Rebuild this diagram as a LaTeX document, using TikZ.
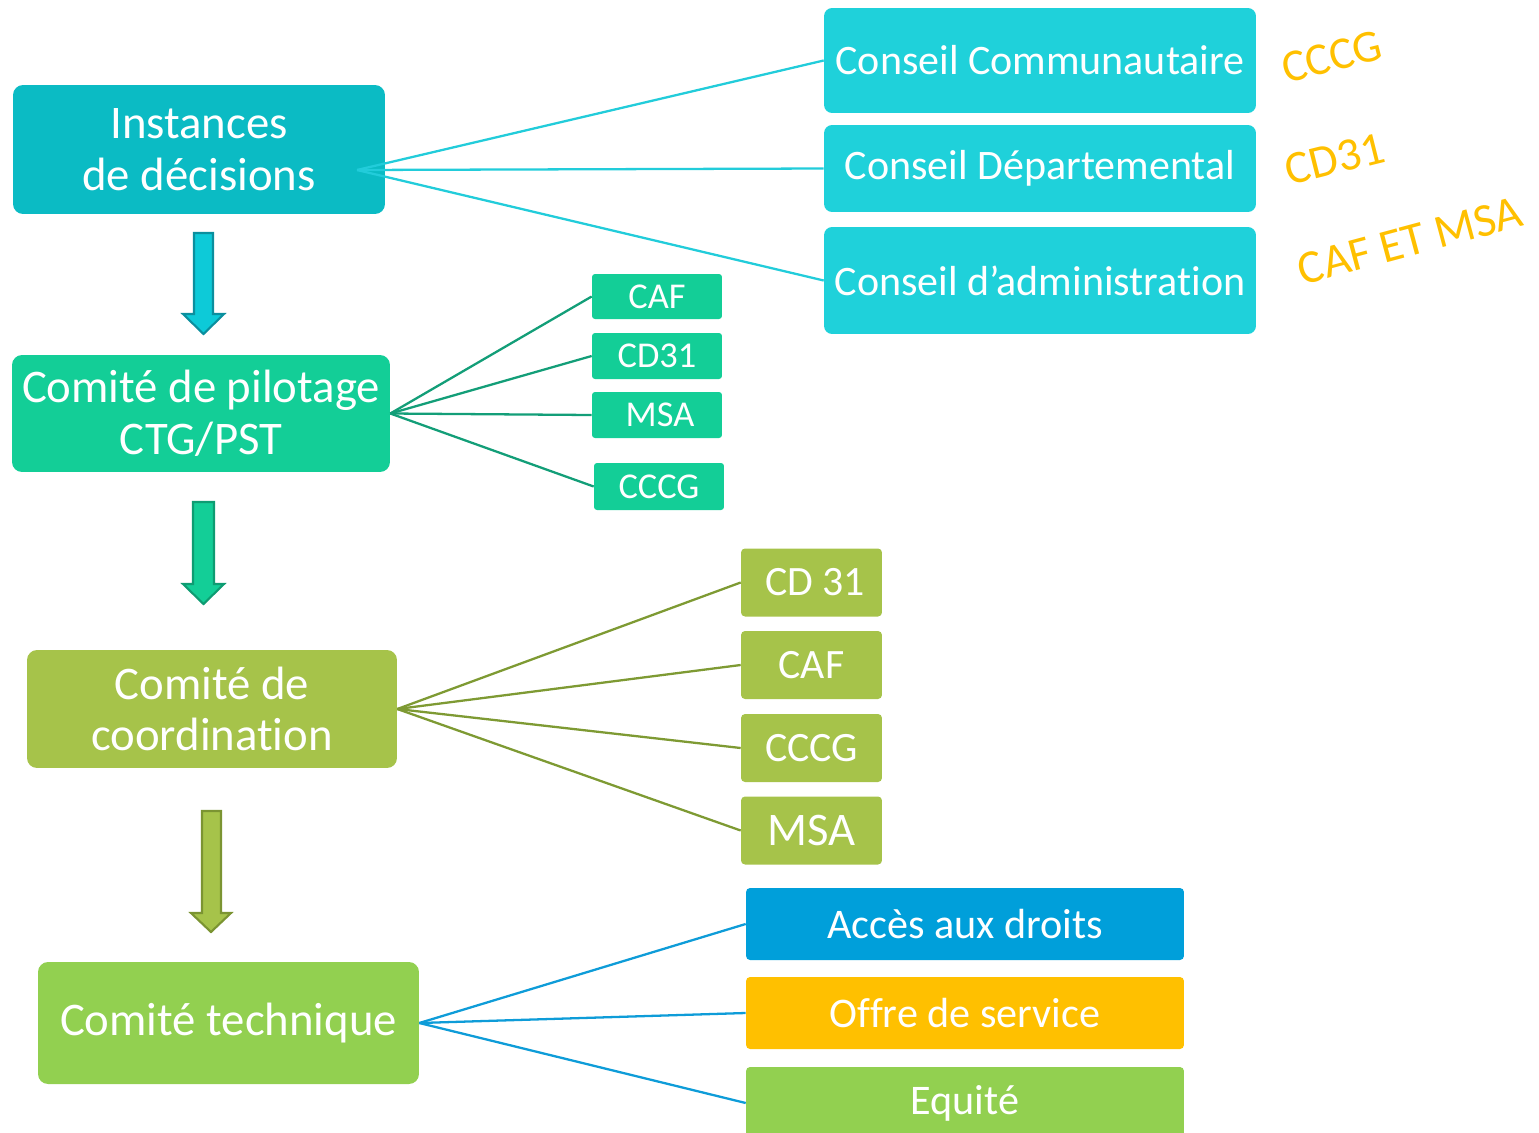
\documentclass[tikz,border=0pt]{standalone}
\usepackage{fontspec}
\setmainfont{Carlito}[Ligatures=NoCommon]
\usetikzlibrary{arrows,shapes}

\definecolor{instcol}{HTML}{0BBBC4}
\definecolor{conscol}{HTML}{1FD1DA}
\definecolor{conslin}{HTML}{22CCDA}
\definecolor{pilotcol}{HTML}{13CE97}
\definecolor{pilotlin}{HTML}{139E78}
\definecolor{coordcol}{HTML}{A6C34A}
\definecolor{coordlin}{HTML}{7E9A33}
\definecolor{techcol}{HTML}{92D050}
\definecolor{techlin}{HTML}{0E9CD8}
\definecolor{accescol}{HTML}{009FDA}
\definecolor{offrecol}{HTML}{FFC000}
\definecolor{arrAfill}{HTML}{0DCAD8}
\definecolor{arrAdraw}{HTML}{0B8F9E}
\definecolor{arrBdraw}{HTML}{0E9C72}
\definecolor{arrCdraw}{HTML}{7B9432}

\begin{document}
\begin{tikzpicture}[x=0.02cm,y=-0.02cm]
\tikzstyle{every node} = [rectangle, text=white, inner sep=0pt, align=center]
\tikzstyle{bigbox} = [rounded corners=0.2cm, font=\fontsize{26.6}{29.5}\selectfont]
\tikzstyle{consbox} = [fill=conscol, rounded corners=0.16cm, minimum width=8.64cm, font=\fontsize{23.9}{26}\selectfont]
\tikzstyle{pbox} = [fill=pilotcol, rounded corners=0.06cm, minimum width=2.6cm, font=\fontsize{20.7}{22}\selectfont]
\tikzstyle{cbox} = [fill=coordcol, rounded corners=0.08cm, minimum width=2.82cm, minimum height=1.36cm, font=\fontsize{23.8}{26}\selectfont]
\tikzstyle{tbox} = [rounded corners=0.08cm, minimum width=8.76cm, minimum height=1.44cm, font=\fontsize{24}{26}\selectfont]
\tikzstyle{note} = [text=offrecol]
\tikzstyle{fan} = [line width=1.3pt]
\tikzstyle{blockarrow} = [line width=1.2pt, line join=miter]

\useasboundingbox (0,0) rectangle (1539,1133);

% left column
\node[bigbox, fill=instcol, minimum width=7.44cm, minimum height=2.58cm] (inst) at (199,149.5) {Instances\\de décisions};
\node[bigbox, fill=pilotcol, minimum width=7.56cm, minimum height=2.34cm] (pilot) at (201,413.5) {Comité de pilotage\\CTG/PST};
\node[bigbox, fill=coordcol, minimum width=7.4cm, minimum height=2.36cm] (coord) at (212,709) {Comité de\\coordination};
\node[bigbox, fill=techcol, minimum width=7.62cm, minimum height=2.44cm] (tech) at (228.5,1023) {Comité technique};

% conseils
\node[consbox, minimum height=2.1cm] (ccom) at (1040,60.5) {Conseil Communautaire};
\node[consbox, minimum height=1.74cm] (cdep) at (1040,168.5) {Conseil Départemental};
\node[consbox, minimum height=2.14cm] (cadm) at (1040,280.5) {Conseil d’administration};
\node[note, rotate=14, font=\fontsize{26}{27}\selectfont] (ncom) at (1332,57) {CCCG};
\node[note, rotate=14, font=\fontsize{26.5}{28}\selectfont] (ndep) at (1335,159) {CD31};
\node[note, rotate=15, font=\fontsize{26.8}{28}\selectfont] (nadm) at (1410,241) {CAF ET MSA};

% pilotage
\node[pbox, minimum height=0.9cm] (pcaf) at (657,296.5) {CAF};
\node[pbox, minimum height=0.92cm] (pcd) at (657,356) {CD31};
\node[pbox, minimum height=0.92cm] (pmsa) at (657,415) {\,MSA};
\node[pbox, minimum height=0.94cm] (pcccg) at (659,486.5) {CCCG};

% coordination
\node[cbox] (ccd) at (811.5,582.5) {\,CD 31};
\node[cbox] (ccaf) at (811.5,665) {CAF};
\node[cbox] (ccccg) at (811.5,748) {CCCG};
\node[cbox, font=\fontsize{26.6}{28}\selectfont] (cmsa) at (811.5,830.5) {MSA};

% technique
\node[tbox, fill=accescol] (acces) at (965,924) {Accès aux droits};
\node[tbox, fill=offrecol] (offre) at (965,1013) {Offre de service};
\node[tbox, fill=techcol] (equite) at (965,1103) {Equité};

\coordinate (hub) at (357,170);
\draw [fan, conslin] (hub) -- (ccom.west);
\draw [fan, conslin] (hub) -- (cdep.west);
\draw [fan, conslin] (hub) -- (cadm.west);

\draw [fan, pilotlin] (pilot.east) -- (pcaf.west);
\draw [fan, pilotlin] (pilot.east) -- (pcd.west);
\draw [fan, pilotlin] (pilot.east) -- (pmsa.west);
\draw [fan, pilotlin] (pilot.east) -- (pcccg.west);

\draw [fan, coordlin] (coord.east) -- (ccd.west);
\draw [fan, coordlin] (coord.east) -- (ccaf.west);
\draw [fan, coordlin] (coord.east) -- (ccccg.west);
\draw [fan, coordlin] (coord.east) -- (cmsa.west);

\draw [fan, techlin] (tech.east) -- (acces.west);
\draw [fan, techlin] (tech.east) -- (offre.west);
\draw [fan, techlin] (tech.east) -- (equite.west);

% down arrows
\draw [blockarrow, fill=arrAfill, draw=arrAdraw] (194,233) -- (213,233) -- (213,314) -- (224,314) -- (203.5,334) -- (183,314) -- (194,314) -- cycle;
\draw [blockarrow, fill=pilotcol, draw=arrBdraw] (193,502) -- (214,502) -- (214,584) -- (224,584) -- (203.5,604) -- (183,584) -- (193,584) -- cycle;
\draw [blockarrow, fill=coordcol, draw=arrCdraw] (202,811) -- (221,811) -- (221,913) -- (231,913) -- (211,932) -- (191,913) -- (202,913) -- cycle;
\end{tikzpicture}
\end{document}
